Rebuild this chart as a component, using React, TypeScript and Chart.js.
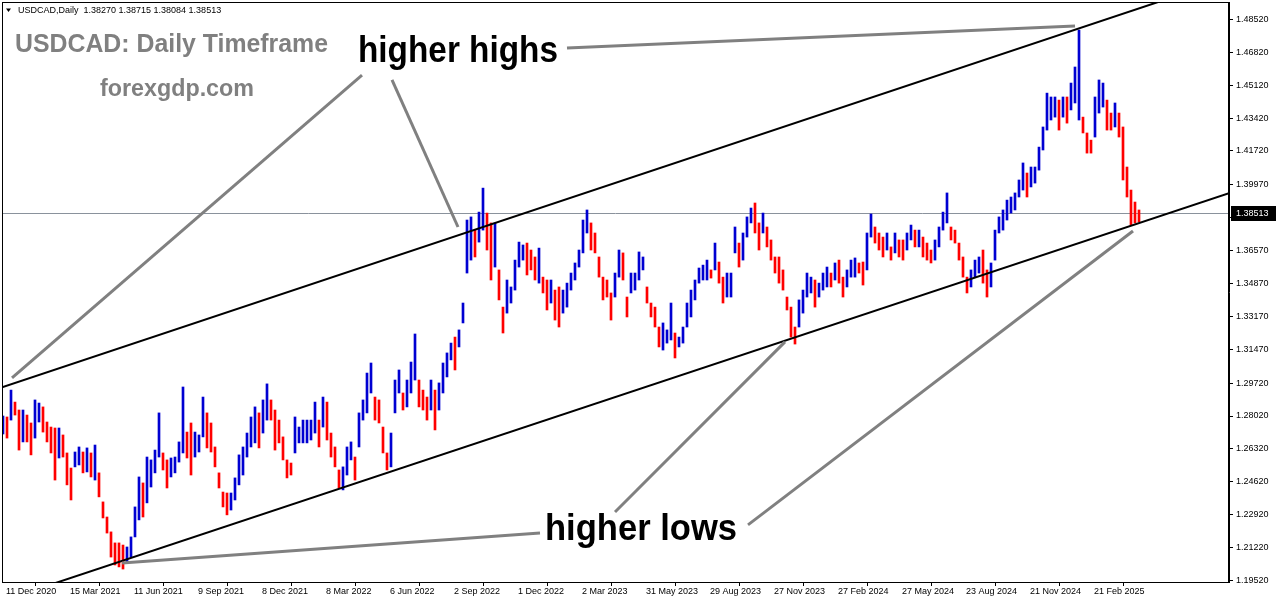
import React, { useEffect, useRef } from 'react';
import { Chart, registerables } from 'chart.js';

Chart.register(...registerables);

// ---------- data ----------
const symbolTitle = 'USDCAD,Daily';
const headerOHLC = [1.3827, 1.38715, 1.38084, 1.38513];

// one entry per group of daily bars, high and low
const barHighs = [
  1.2802, 1.2797, 1.2936, 1.2874, 1.2833, 1.2833, 1.2807, 1.2766, 1.2885, 1.2869,
  1.2849, 1.2771, 1.2745, 1.2740, 1.2740, 1.2704, 1.2611, 1.2533, 1.2616, 1.2642,
  1.2616, 1.2637, 1.2611, 1.2652, 1.2508, 1.2358, 1.2280, 1.2203, 1.2146, 1.2146,
  1.2135, 1.2125, 1.2177, 1.2332, 1.2487, 1.2456, 1.2590, 1.2575, 1.2626, 1.2818,
  1.2611, 1.2575, 1.2585, 1.2590, 1.2668, 1.2952, 1.2719, 1.2766, 1.2719, 1.2704,
  1.2900, 1.2818, 1.2766, 1.2642, 1.2508, 1.2409, 1.2404, 1.2404, 1.2482, 1.2601,
  1.2642, 1.2714, 1.2797, 1.2849, 1.2818, 1.2885, 1.2968, 1.2885, 1.2833, 1.2781,
  1.2694, 1.2575, 1.2559, 1.2797, 1.2745, 1.2781, 1.2781, 1.2781, 1.2874, 1.2781,
  1.2900, 1.2874, 1.2714, 1.2642, 1.2523, 1.2539, 1.2642, 1.2668, 1.2590, 1.2818,
  1.2885, 1.3024, 1.3076, 1.2900, 1.2885, 1.2745, 1.2611, 1.2714, 1.2988, 1.3040,
  1.2921, 1.2988, 1.3081, 1.3226, 1.2988, 1.2936, 1.2900, 1.2988, 1.2936, 1.2973,
  1.3076, 1.3128, 1.3179, 1.3210, 1.3247, 1.3386, 1.3815, 1.3831, 1.3763, 1.3856,
  1.3980, 1.3851, 1.3800, 1.3800, 1.3557, 1.3365, 1.3505, 1.3469, 1.3608, 1.3701,
  1.3686, 1.3696, 1.3660, 1.3624, 1.3670, 1.3520, 1.3505, 1.3505, 1.3453, 1.3469,
  1.3453, 1.3489, 1.3541, 1.3593, 1.3660, 1.3815, 1.3867, 1.3800, 1.3748, 1.3624,
  1.3520, 1.3505, 1.3438, 1.3541, 1.3660, 1.3645, 1.3417, 1.3541, 1.3541, 1.3650,
  1.3624, 1.3469, 1.3386, 1.3365, 1.3262, 1.3283, 1.3247, 1.3386, 1.3231, 1.3210,
  1.3262, 1.3386, 1.3453, 1.3505, 1.3567, 1.3582, 1.3608, 1.3557, 1.3696, 1.3598,
  1.3520, 1.3541, 1.3541, 1.3779, 1.3696, 1.3748, 1.3831, 1.3877, 1.3903, 1.3800,
  1.3851, 1.3779, 1.3712, 1.3624, 1.3624, 1.3557, 1.3417, 1.3365, 1.3262, 1.3402,
  1.3453, 1.3541, 1.3520, 1.3505, 1.3489, 1.3541, 1.3572, 1.3541, 1.3593, 1.3608,
  1.3520, 1.3557, 1.3608, 1.3619, 1.3593, 1.3598, 1.3748, 1.3846, 1.3779, 1.3748,
  1.3727, 1.3748, 1.3676, 1.3748, 1.3712, 1.3712, 1.3748, 1.3789, 1.3763, 1.3763,
  1.3727, 1.3696, 1.3660, 1.3712, 1.3779, 1.3856, 1.3955, 1.3779, 1.3763, 1.3696,
  1.3624, 1.3520, 1.3557, 1.3608, 1.3624, 1.3660, 1.3557, 1.3593, 1.3763, 1.3831,
  1.3867, 1.3918, 1.3934, 1.3955, 1.4022, 1.4110, 1.4058, 1.4089, 1.4089, 1.4192,
  1.4296, 1.4471, 1.4451, 1.4451, 1.4435, 1.4451, 1.4451, 1.4523, 1.4606, 1.4797,
  1.4347, 1.4265, 1.4228, 1.4451, 1.4539, 1.4523, 1.4435, 1.4368, 1.4420, 1.4368,
  1.4296, 1.4089, 1.3970, 1.3908, 1.3867,
];

const barLows = [
  1.2709, 1.2688, 1.2781, 1.2807, 1.2626, 1.2668, 1.2668, 1.2601, 1.2688, 1.2771,
  1.2719, 1.2668, 1.2611, 1.2471, 1.2585, 1.2590, 1.2446, 1.2368, 1.2539, 1.2549,
  1.2508, 1.2513, 1.2487, 1.2471, 1.2384, 1.2275, 1.2197, 1.2073, 1.2032, 1.2022,
  1.2011, 1.2042, 1.2073, 1.2177, 1.2265, 1.2280, 1.2353, 1.2435, 1.2508, 1.2590,
  1.2523, 1.2430, 1.2487, 1.2508, 1.2564, 1.2611, 1.2585, 1.2497, 1.2590, 1.2616,
  1.2694, 1.2637, 1.2616, 1.2539, 1.2430, 1.2332, 1.2291, 1.2316, 1.2368, 1.2446,
  1.2497, 1.2590, 1.2642, 1.2663, 1.2637, 1.2714, 1.2781, 1.2781, 1.2626, 1.2663,
  1.2575, 1.2482, 1.2497, 1.2611, 1.2663, 1.2663, 1.2663, 1.2678, 1.2714, 1.2642,
  1.2745, 1.2678, 1.2590, 1.2539, 1.2430, 1.2420, 1.2497, 1.2575, 1.2471, 1.2642,
  1.2781, 1.2818, 1.2921, 1.2781, 1.2766, 1.2611, 1.2523, 1.2539, 1.2818, 1.2921,
  1.2833, 1.2849, 1.2921, 1.2988, 1.2849, 1.2833, 1.2781, 1.2833, 1.2730, 1.2833,
  1.2921, 1.3004, 1.3092, 1.3040, 1.3159, 1.3283, 1.3541, 1.3608, 1.3624, 1.3701,
  1.3763, 1.3660, 1.3505, 1.3572, 1.3402, 1.3231, 1.3334, 1.3386, 1.3453, 1.3572,
  1.3608, 1.3531, 1.3557, 1.3505, 1.3489, 1.3438, 1.3350, 1.3386, 1.3298, 1.3262,
  1.3334, 1.3365, 1.3453, 1.3505, 1.3572, 1.3645, 1.3748, 1.3660, 1.3645, 1.3520,
  1.3402, 1.3417, 1.3298, 1.3417, 1.3520, 1.3505, 1.3314, 1.3438, 1.3453, 1.3505,
  1.3557, 1.3386, 1.3314, 1.3262, 1.3159, 1.3143, 1.3179, 1.3195, 1.3102, 1.3159,
  1.3179, 1.3262, 1.3314, 1.3402, 1.3489, 1.3505, 1.3505, 1.3515, 1.3557, 1.3489,
  1.3386, 1.3417, 1.3417, 1.3645, 1.3572, 1.3608, 1.3727, 1.3800, 1.3748, 1.3660,
  1.3748, 1.3676, 1.3608, 1.3541, 1.3489, 1.3453, 1.3350, 1.3210, 1.3174, 1.3262,
  1.3334, 1.3417, 1.3438, 1.3365, 1.3417, 1.3453, 1.3469, 1.3469, 1.3505, 1.3489,
  1.3417, 1.3469, 1.3520, 1.3520, 1.3541, 1.3479, 1.3557, 1.3727, 1.3696, 1.3660,
  1.3624, 1.3660, 1.3608, 1.3645, 1.3624, 1.3608, 1.3660, 1.3712, 1.3676, 1.3676,
  1.3624, 1.3608, 1.3593, 1.3608, 1.3676, 1.3763, 1.3800, 1.3712, 1.3696, 1.3608,
  1.3520, 1.3438, 1.3469, 1.3520, 1.3541, 1.3489, 1.3417, 1.3469, 1.3608, 1.3748,
  1.3763, 1.3815, 1.3851, 1.3867, 1.3934, 1.3970, 1.3934, 1.3986, 1.4006, 1.4073,
  1.4177, 1.4280, 1.4332, 1.4347, 1.4280, 1.4347, 1.4316, 1.4384, 1.4420, 1.4332,
  1.4265, 1.4161, 1.4161, 1.4244, 1.4368, 1.4399, 1.4280, 1.4280, 1.4296, 1.4244,
  1.4022, 1.3934, 1.3789, 1.3800, 1.3805,
];

const dateTickIndex = [0, 16, 32, 48, 64, 80, 96, 112, 128, 144, 160, 176, 192, 208, 224, 240, 256, 272];
const dateLabels = [
  '11 Dec 2020', '15 Mar 2021', '11 Jun 2021', '9 Sep 2021', '8 Dec 2021', '8 Mar 2022',
  '6 Jun 2022', '2 Sep 2022', '1 Dec 2022', '2 Mar 2023', '31 May 2023', '29 Aug 2023',
  '27 Nov 2023', '27 Feb 2024', '27 May 2024', '23 Aug 2024', '21 Nov 2024', '21 Feb 2025',
];
const priceTicks = [
  1.1952, 1.2122, 1.2292, 1.2462, 1.2632, 1.2802, 1.2972, 1.3147, 1.3317,
  1.3487, 1.3657, 1.3827, 1.3997, 1.4172, 1.4342, 1.4512, 1.4682, 1.4852,
];

// channel trend lines (bar index, price)
const upperChannel = [{ x: -0.25, y: 1.2950 }, { x: 306.5, y: 1.5064 }];
const lowerChannel = [{ x: 13, y: 1.1938 }, { x: 306.5, y: 1.3954 }];

// grey callout lines (bar index, price) -> (bar index, price)
const calloutLines = [
  [89.75, 1.4564, 2.25, 1.2999],
  [97.25, 1.4539, 113.75, 1.3779],
  [141, 1.4704, 268, 1.4818],
  [153, 1.2306, 195.5, 1.3185],
  [186.25, 1.2239, 282.5, 1.3758],
  [134.25, 1.2197, 29.75, 1.2042],
];

const titleText = 'USDCAD: Daily Timeframe';
const siteText = 'forexgdp.com';
const highsText = 'higher highs';
const lowsText = 'higher lows';

// ---------- styles ----------
const UP = '#0000d2';
const DOWN = '#ff0000';
const FONT = "'Liberation Sans', Arial, sans-serif";

function fitText(ctx: CanvasRenderingContext2D, text: string, x: number, baseline: number, width: number, font: string, color: string) {
  ctx.save();
  ctx.font = font;
  ctx.fillStyle = color;
  ctx.textAlign = 'left';
  ctx.textBaseline = 'alphabetic';
  const w = ctx.measureText(text).width;
  ctx.translate(x, baseline);
  ctx.scale(width / w, 1);
  ctx.fillText(text, 0, 0);
  ctx.restore();
}

const overlayPlugin = {
  id: 'mt4Overlay',
  beforeDatasetsDraw(chart: any) {
    const { ctx, chartArea, scales } = chart;
    const y = Math.round(scales.y.getPixelForValue(headerOHLC[3])) + 0.5;
    ctx.save();
    ctx.strokeStyle = '#8a929c';
    ctx.lineWidth = 1;
    ctx.beginPath();
    ctx.moveTo(chartArea.left, y);
    ctx.lineTo(chartArea.right, y);
    ctx.stroke();
    ctx.restore();
  },
  afterDraw(chart: any) {
    const { ctx, chartArea, scales } = chart;
    ctx.save();
    // frame
    ctx.strokeStyle = '#000';
    ctx.lineWidth = 1;
    ctx.strokeRect(chartArea.left + 0.5, chartArea.top + 0.5, chartArea.right - chartArea.left - 1, chartArea.bottom - chartArea.top);
    // current price box
    const y = Math.round(scales.y.getPixelForValue(headerOHLC[3]));
    ctx.fillStyle = '#000';
    ctx.fillRect(chartArea.right + 2, y - 7, 46, 15);
    ctx.fillStyle = '#fff';
    ctx.font = `9px ${FONT}`;
    ctx.textBaseline = 'middle';
    ctx.textAlign = 'left';
    ctx.fillText(headerOHLC[3].toFixed(5), chartArea.right + 7, y + 1);
    // header
    ctx.fillStyle = '#000';
    ctx.beginPath();
    ctx.moveTo(6, 8.5);
    ctx.lineTo(11, 8.5);
    ctx.lineTo(8.5, 12);
    ctx.closePath();
    ctx.fill();
    ctx.textBaseline = 'alphabetic';
    ctx.fillText(`${symbolTitle}  ${headerOHLC.map((v) => v.toFixed(5)).join(' ')}`, 18, 13);
    ctx.restore();
    // big texts
    fitText(ctx, titleText, 15, 52, 313, `bold 25px ${FONT}`, '#808080');
    fitText(ctx, siteText, 100, 96, 154, `bold 23px ${FONT}`, '#808080');
    fitText(ctx, highsText, 358, 62, 200, `bold 36px ${FONT}`, '#000');
    fitText(ctx, lowsText, 545, 540, 192, `bold 36px ${FONT}`, '#000');
  },
};

export default function App() {
  const ref = useRef<HTMLCanvasElement>(null);
  useEffect(() => {
    document.body.style.margin = '0';
    const mids = barHighs.map((h, i) => (h + barLows[i]) / 2);
    const colors = mids.map((m, i) => (i === 0 || m >= mids[i - 1] ? UP : DOWN));
    const tickFont = { family: FONT, size: 9 };

    const datasets: any[] = [
      {
        type: 'bar',
        data: barHighs.map((h, i) => ({ x: i, y: [barLows[i], h] })),
        backgroundColor: colors,
        borderWidth: 0,
        barThickness: 2,
        order: 2,
      },
      {
        type: 'line',
        data: upperChannel,
        borderColor: '#000',
        borderWidth: 2,
        pointRadius: 0,
        fill: false,
        order: 1,
      },
      {
        type: 'line',
        data: lowerChannel,
        borderColor: '#000',
        borderWidth: 2,
        pointRadius: 0,
        fill: false,
        order: 1,
      },
      ...calloutLines.map((c) => ({
        type: 'line',
        data: [{ x: c[0], y: c[1] }, { x: c[2], y: c[3] }],
        borderColor: '#808080',
        borderWidth: 3,
        pointRadius: 0,
        fill: false,
        order: 0,
      })),
    ];

    const chart = new Chart(ref.current as HTMLCanvasElement, {
      type: 'bar',
      data: { datasets },
      options: {
        responsive: false,
        animation: false,
        events: [],
        layout: { padding: { left: 2, top: 2, right: 0, bottom: 0 } },
        plugins: { legend: { display: false }, tooltip: { enabled: false } },
        scales: {
          x: {
            type: 'linear',
            position: 'bottom',
            min: -0.25,
            max: 306.5,
            offset: false,
            grid: { display: true, drawOnChartArea: false, drawTicks: true, tickLength: 4, color: '#000' },
            border: { display: true, color: '#000' },
            ticks: {
              autoSkip: false,
              maxRotation: 0,
              minRotation: 0,
              align: 'start',
              labelOffset: 3,
              padding: 0,
              color: '#000',
              font: tickFont,
              callback: (_v: any, i: number) => dateLabels[i],
            },
            afterBuildTicks: (s: any) => {
              s.ticks = dateTickIndex.map((v) => ({ value: v }));
            },
            afterFit: (s: any) => {
              s.height = 22;
              s.paddingLeft = 0;
              s.paddingRight = 0;
            },
          },
          y: {
            type: 'linear',
            position: 'right',
            min: 1.1944,
            max: 1.4942,
            grid: { display: true, drawOnChartArea: false, drawTicks: true, tickLength: 4, color: '#000' },
            border: { display: true, color: '#000' },
            ticks: {
              padding: 3,
              color: '#000',
              font: tickFont,
              callback: (v: any) => Number(v).toFixed(5),
            },
            afterBuildTicks: (s: any) => {
              s.ticks = priceTicks.map((v) => ({ value: v }));
            },
            afterFit: (s: any) => {
              s.width = 47;
              s.paddingTop = 0;
              s.paddingBottom = 0;
            },
          },
        },
      } as any,
      plugins: [overlayPlugin],
    });
    return () => chart.destroy();
  }, []);

  return (
    <div style={{ position: 'absolute', left: 0, top: 0, width: 1276, height: 604, background: '#fff' }}>
      <canvas ref={ref} width={1276} height={604} style={{ display: 'block', width: 1276, height: 604 }} />
    </div>
  );
}
